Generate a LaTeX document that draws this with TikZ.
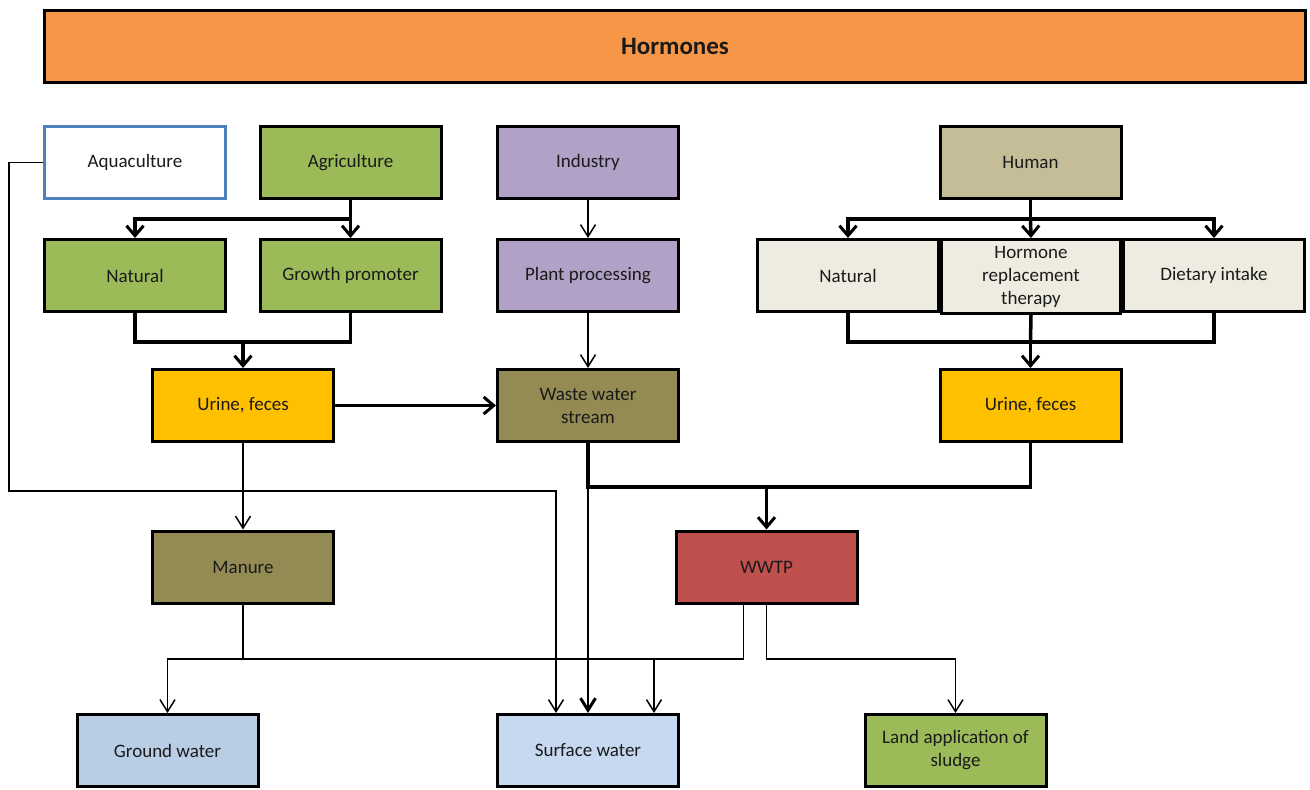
\documentclass[tikz,border=0pt]{standalone}
\usepackage{fontspec}
\setmainfont{Carlito}
\usetikzlibrary{arrows.meta}
\definecolor{corange}{HTML}{F79646}
\definecolor{cgreen}{HTML}{9BBB59}
\definecolor{cpurple}{HTML}{B2A1C7}
\definecolor{chuman}{HTML}{C4BD97}
\definecolor{clight}{HTML}{EEECE1}
\definecolor{cyellow}{HTML}{FFC000}
\definecolor{colive}{HTML}{948A54}
\definecolor{cred}{HTML}{C0504D}
\definecolor{cground}{HTML}{B9CDE5}
\definecolor{csurface}{HTML}{C6D9F1}
\definecolor{cblue}{HTML}{4F81BD}
\definecolor{ctext}{HTML}{1A1A1A}
\begin{document}
\begin{tikzpicture}[x=1pt,y=-1pt,
  box/.style={draw=black, line width=3pt, minimum width=181pt, minimum height=72pt,
    align=center, inner sep=2pt, text=ctext, font=\fontsize{19}{23}\selectfont},
  thickline/.style={line width=3.5pt},
  thickarrow/.style={line width=3.5pt, -{Straight Barb[length=10pt,width=17pt,line width=3pt]}},
  thinline/.style={line width=1.5pt},
  thinarrow/.style={line width=1.5pt, -{Straight Barb[length=12pt,width=15pt,line width=1.5pt]}},
  boldtiparrow/.style={line width=1.5pt, -{Straight Barb[length=12pt,width=15pt,line width=3pt]}}
]
\useasboundingbox (0,0) rectangle (1310,790);

% nodes
\node[box, fill=corange, minimum width=1261pt, font=\fontsize{25}{29}\selectfont\bfseries] (horm) at (675,46.5) {Hormones};
\node[box, fill=white, draw=cblue, line width=2.5pt] (aqua) at (135,162.5) {Aquaculture};
\node[box, fill=cgreen] (agri) at (350.5,162.5) {Agriculture};
\node[box, fill=cpurple] (ind) at (588,162.5) {Industry};
\node[box, fill=chuman] (human) at (1030.5,162.5) {Human};

\node[box, fill=cgreen] (nat1) at (135,275.5) {Natural};
\node[box, fill=cgreen] (growth) at (350.5,275.5) {Growth promoter};
\node[box, fill=cpurple] (plant) at (588,275.5) {Plant processing};
\node[box, fill=clight] (nat2) at (848,275.5) {Natural};
\node[box, fill=clight] (diet) at (1214,275.5) {Dietary intake};
\node[box, fill=clight, minimum width=179pt, minimum height=74pt] (hrt) at (1031,276.5) {Hormone\\replacement\\therapy};

\node[box, fill=cyellow] (urine1) at (243,405.5) {Urine, feces};
\node[box, fill=colive] (waste) at (588,405.5) {Waste water\\stream};
\node[box, fill=cyellow] (urine2) at (1030.5,405.5) {Urine, feces};

\node[box, fill=colive] (manure) at (243,567) {Manure};
\node[box, fill=cred] (wwtp) at (766.5,567) {WWTP};

\node[box, fill=cground] (ground) at (167.5,750.5) {Ground water};
\node[box, fill=csurface] (surface) at (588,750.5) {Surface water};
\node[box, fill=cgreen] (land) at (955.5,750.5) {Land application of\\sludge};

% junction coordinates
\coordinate (aj) at ([yshift=-19pt]agri.south);
\coordinate (hj) at ([yshift=-19pt]human.south);
\coordinate (lj) at ([yshift=-29pt]urine1.north |- nat1.south);
\coordinate (rj) at ([yshift=-29pt]urine2.north |- nat2.south);
\coordinate (wj) at (766.5,487);
\coordinate (aq) at (9,491);
\coordinate (bus) at (0,659);
\coordinate (w1) at ([xshift=-23pt]wwtp.south);
\coordinate (w2) at (wwtp.south);
\coordinate (s1) at ([xshift=-32pt]surface.north);
\coordinate (s3) at ([xshift=66pt]surface.north);

% agriculture branch
\draw[thickline] (agri.south) -- (aj);
\draw[thickarrow] (aj) -| (nat1.north);
\draw[thickarrow] (aj) -- (growth.north);

% human branch
\draw[thickline] (human.south) -- (hj);
\draw[thickarrow] (hj) -| (nat2.north);
\draw[thickarrow] (hj) -| (diet.north);
\draw[thickarrow] (hj) -- (hrt.north);

% industry
\draw[thinarrow] (ind.south) -- (plant.north);
\draw[thinarrow] (plant.south) -- (waste.north);

% merges into urine
\draw[thickline] (nat1.south) |- (lj) -| (growth.south);
\draw[thickarrow] (lj) -- (urine1.north);
\draw[thickline] (nat2.south) |- (rj) -| (diet.south);
\draw[thickline] (hrt.south) -- (rj);
\draw[thickarrow] (rj) -- (urine2.north);

% urine -> waste water
\draw[thickarrow] (urine1.east) -- (waste.west);

% urine -> manure
\draw[thinarrow] (urine1.south) -- (manure.north);

% aquaculture -> surface water
\draw[thinarrow] (aqua.west) -| (aq) -| (s1);

% waste water + urine -> WWTP
\draw[boldtiparrow] (waste.south) -- (surface.north);
\draw[thickline] (waste.south) |- (wj) -| (urine2.south);
\draw[thickarrow] (wj) -- (wwtp.north);

% manure and WWTP outputs
\draw[thinarrow] (manure.south) |- (bus -| ground.north) -- (ground.north);
\draw[thinline] (manure.south |- bus) -- (w1 |- bus);
\draw[thinarrow] (w1) |- (s3 |- bus) -- (s3);
\draw[thinarrow] (w2) |- (land.north |- bus) -- (land.north);
\end{tikzpicture}
\end{document}
